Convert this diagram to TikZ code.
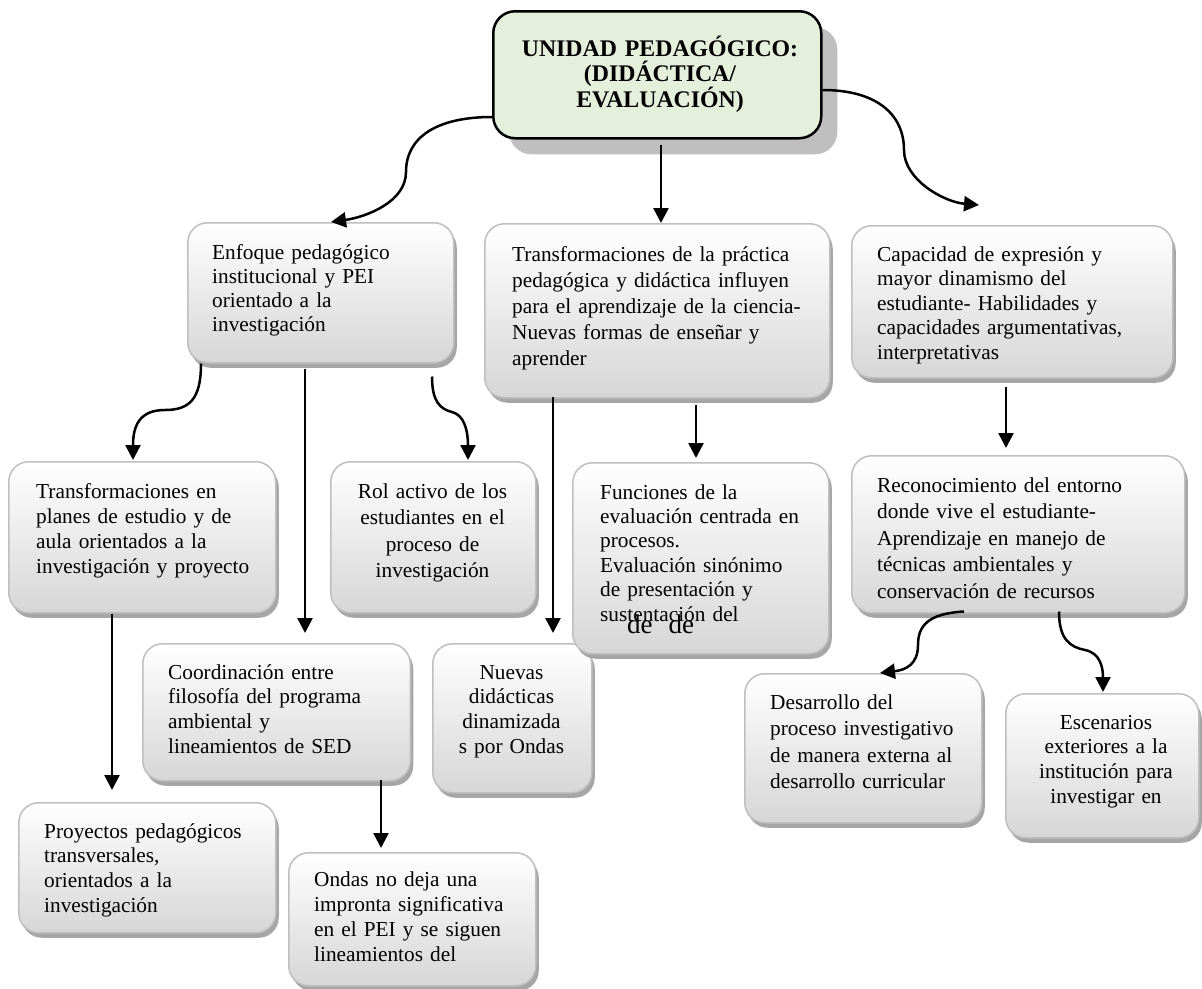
\documentclass[tikz,border=0pt]{standalone}
\usepackage{fontspec}
\setmainfont{Liberation Serif}
\usetikzlibrary{arrows.meta,shadows,calc}
\definecolor{titlegreen}{HTML}{E4EFDC}
\newcommand{\bodyfs}[1]{\fontsize{21.3pt}{#1pt}\selectfont}
\begin{document}
\begin{tikzpicture}[x=1pt,y=-1pt,
  cbox/.style={draw=gray!50, line width=1.5pt, rounded corners=20pt, top color=white, bottom color=gray!32,
    inner sep=0pt, anchor=north west,
    drop shadow={shadow xshift=3pt, shadow yshift=-5pt, fill=gray!70, opacity=1}},
  tbox/.style={draw=black, line width=2.5pt, fill=titlegreen, rounded corners=22pt, inner sep=0pt, anchor=north west,
    drop shadow={shadow xshift=16pt, shadow yshift=-16pt, fill=gray!50, opacity=1}},
  arr/.style={line width=2.5pt, -{Triangle[length=15pt,width=15pt]}},
  lt/.style={inner sep=0pt, anchor=base west, align=left, text width=340pt, font=\bodyfs{#1}},
  ct/.style={inner sep=0pt, anchor=base, align=center, text width=190pt, font=\bodyfs{#1}}
]
\useasboundingbox (0,0) rectangle (1202,988);

% boxes
\node[tbox, minimum width=328pt, minimum height=127pt] (T) at (492,10) {};
\node[cbox, minimum width=266pt, minimum height=140pt] (A) at (187,222) {};
\node[cbox, minimum width=345pt, minimum height=174pt] (B) at (484,223) {};
\node[cbox, minimum width=321pt, minimum height=152pt] (C) at (851,225) {};
\node[cbox, minimum width=267pt, minimum height=151pt] (D) at (8,461) {};
\node[cbox, minimum width=205pt, minimum height=151pt] (E) at (330,461) {};
\node[cbox, minimum width=159pt, minimum height=149pt] (I) at (432,643) {};
\node[cbox, minimum width=256pt, minimum height=191pt] (F) at (572,462) {};
\node[cbox, minimum width=333pt, minimum height=157pt] (G) at (851,455) {};
\node[cbox, minimum width=267.5pt, minimum height=137pt] (H) at (142,643) {};
\node[cbox, minimum width=237pt, minimum height=149pt] (J) at (744,673) {};
\node[cbox, minimum width=193pt, minimum height=144pt] (K) at (1005,693) {};
\node[cbox, minimum width=257pt, minimum height=130pt] (L) at (18,802) {};
\node[cbox, minimum width=247pt, minimum height=133pt] (M) at (288,852) {};

% connectors
\draw[arr] ($(T.north west)+(0,107)$) .. controls +(-55,0) and +(0,-35) .. ($(A.north west)+(219,-50)$)
  .. controls +(0,30) and +(35,-5) .. ($(A.north west)+(144,0)$);
\draw[arr] ($(T.south west)+(169,5)$) -- ($(B.north west)+(177,0)$);
\draw[arr] ($(T.north east)+(0,80)$) .. controls +(55,0) and +(0,-35) .. ($(C.north west)+(53,-75)$)
  .. controls +(0,30) and +(-35,-3) .. ($(C.north west)+(128,-20)$);
\draw[arr] ($(A.south west)+(14,0)$) .. controls +(0,35) and +(25,0) .. ($(D.north west)+(157,-51)$)
  .. controls +(-25,0) and +(0,-35) .. ($(D.north west)+(125,-1)$);
\draw[arr] ($(A.south west)+(118,5)$) -- ($(H.north west)+(163,-10)$);
\draw[arr] ($(A.south west)+(245,13)$) .. controls +(0,25) and +(-12,-3) .. ($(E.north west)+(122,-49)$)
  .. controls +(12,3) and +(0,-30) .. ($(E.north west)+(138,-1)$);
\draw[arr] ($(B.south west)+(69,-2)$) -- ($(I.north west)+(121,-10)$);
\draw[arr] ($(B.south west)+(212,6)$) -- ($(F.north west)+(124,-4)$);
\draw[arr] ($(C.south west)+(155,8)$) -- ($(G.north west)+(155,-7)$);
\draw[arr] ($(D.south west)+(104,0)$) -- ($(L.north west)+(94,-12)$);
\draw[arr] ($(H.south west)+(239,-2)$) -- ($(M.north west)+(93,-4)$);
\draw[arr] ($(G.south west)+(113,-2)$) .. controls +(-35,2) and +(0,-20) .. ($(J.north west)+(174,-28)$)
  .. controls +(0,20) and +(25,-3) .. ($(J.north west)+(136,0)$);
\draw[arr] ($(G.south west)+(208,-2)$) .. controls +(0,28) and +(-15,-3) .. ($(K.north west)+(80,-43)$)
  .. controls +(15,3) and +(0,-25) .. ($(K.north west)+(98,-1)$);

% texts
\node[inner sep=0pt, anchor=base, align=center, text width=330pt, font=\bfseries\fontsize{23.8pt}{24.5pt}\selectfont] (Tt) at (660,56.5)
  {UNIDAD PEDAGÓGICO:\\(DIDÁCTICA/\\EVALUACIÓN)};
\node[lt=24] (At) at (212,259) {Enfoque pedagógico\\institucional y PEI\\orientado a la\\investigación};
\node[lt=26.2] (Bt) at (512,261) {Transformaciones de la práctica\\pedagógica y didáctica influyen\\para el aprendizaje de la ciencia-\\Nuevas formas de enseñar y\\aprender};
\node[lt=24.6] (Ct) at (877,261) {Capacidad de expresión y\\mayor dinamismo del\\estudiante- Habilidades y\\capacidades argumentativas,\\interpretativas};
\node[lt=25] (Dt) at (36,498) {Transformaciones en\\planes de estudio y de\\aula orientados a la\\investigación y proyecto};
\node[ct=26.5] (Et) at (432.5,498) {Rol activo de los\\estudiantes en el\\proceso de\\investigación};
\node[lt=24.4] (Ft) at (600,499) {Funciones de la\\evaluación centrada en\\procesos.\\Evaluación sinónimo\\de presentación y\\sustentación del};
\node[inner sep=0pt, anchor=base west, font=\fontsize{27pt}{27pt}\selectfont] (dd) at (627,633) {de\hspace{16pt}de};
\node[lt=26.5] (Gt) at (877,492) {Reconocimiento del entorno\\donde vive el estudiante-\\Aprendizaje en manejo de\\técnicas ambientales y\\conservación de recursos};
\node[lt=24.7] (Ht) at (168,679) {Coordinación entre\\filosofía del programa\\ambiental y\\lineamientos de SED};
\node[ct=24.7] (It) at (511.5,679) {Nuevas\\didácticas\\dinamizada\\s por Ondas};
\node[lt=26.5] (Jt) at (770,709) {Desarrollo del\\proceso investigativo\\de manera externa al\\desarrollo curricular};
\node[ct=24.7] (Kt) at (1106,729) {Escenarios\\exteriores a la\\institución para\\investigar en};
\node[lt=24.7] (Lt) at (44,838) {Proyectos pedagógicos\\transversales,\\orientados a la\\investigación};
\node[lt=25] (Mt) at (314,886) {Ondas no deja una\\impronta significativa\\en el PEI y se siguen\\lineamientos del};
\end{tikzpicture}
\end{document}
